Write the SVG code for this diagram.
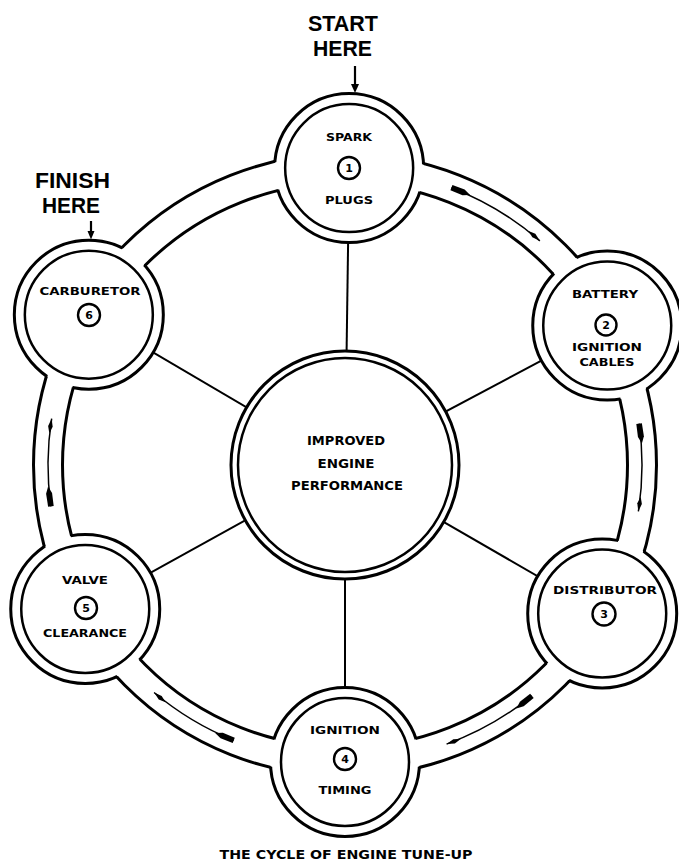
<svg xmlns="http://www.w3.org/2000/svg" width="679" height="861" viewBox="0 0 679 861">
<style>
.lbl{font-family:"DejaVu Sans","Liberation Sans",sans-serif;font-weight:bold;font-size:10.5px;text-anchor:middle;fill:#000}
.ctr{font-family:"DejaVu Sans","Liberation Sans",sans-serif;font-weight:bold;font-size:11.5px;text-anchor:middle;fill:#000}
.big{font-family:"Liberation Sans","DejaVu Sans",sans-serif;font-weight:bold;font-size:22px;text-anchor:middle;fill:#000}
.cap{font-family:"DejaVu Sans","Liberation Sans",sans-serif;font-weight:bold;font-size:13px;text-anchor:middle;fill:#000}
.dig{font-family:"DejaVu Sans","Liberation Sans",sans-serif;font-weight:bold;font-size:11px;text-anchor:middle;fill:#000}
.fill{fill:#fff;stroke:none}
.outer{fill:none;stroke:#000;stroke-width:3}
.inner{fill:none;stroke:#000;stroke-width:2.5}
.num{fill:#fff;stroke:#000;stroke-width:2.4}
.spoke{stroke:#000;stroke-width:2;fill:none}
.band{fill:none;stroke:#000;stroke-width:3}
.flow{fill:none;stroke:#000;stroke-width:1.5;marker-start:url(#mStart);marker-end:url(#mEnd)}
.ptr{stroke:#000;stroke-width:2.2;fill:none}
</style>
<defs>
<mask id="bandMask" maskUnits="userSpaceOnUse" x="0" y="0" width="679" height="861">
<rect x="0" y="0" width="679" height="861" fill="#fff"/>
<circle cx="345" cy="465" r="297" fill="none" stroke="#000" stroke-width="27"/>
</mask>
<marker id="mStart" markerUnits="userSpaceOnUse" markerWidth="24" markerHeight="12" refX="0" refY="0" orient="auto" style="overflow:visible">
<path d="M0,-2.8 L13,-3 L20,0 L13,3 L0,2.8 Z" fill="#000"/>
</marker>
<marker id="mEnd" markerUnits="userSpaceOnUse" markerWidth="16" markerHeight="8" refX="0" refY="0" orient="auto" style="overflow:visible">
<path d="M-15,0 L-8,-2.3 L0,0 L-8,2.3 Z" fill="#000"/>
</marker>
</defs>
<rect x="0" y="0" width="679" height="861" fill="#fff"/>

<g id="connectors">
<line class="spoke" x1="345" y1="465" x2="349.15" y2="168.03"/>
<line class="spoke" x1="345" y1="465" x2="607.24" y2="325.57"/>
<line class="spoke" x1="345" y1="465" x2="602.21" y2="613.5"/>
<line class="spoke" x1="345" y1="465" x2="345" y2="762"/>
<line class="spoke" x1="345" y1="465" x2="85.24" y2="608.99"/>
<line class="spoke" x1="345" y1="465" x2="88.83" y2="314.71"/>
<circle class="band" cx="345" cy="465" r="311.5"/>
<circle class="band" cx="345" cy="465" r="282.5"/>
<path class="flow" d="M451.43,187.73 A297,297 0 0 1 539.85,240.85"/>
<path class="flow" d="M639.11,423.67 A297,297 0 0 1 638.34,511.46"/>
<path class="flow" d="M531.91,695.81 A297,297 0 0 1 446.58,744.09"/>
<path class="flow" d="M233.74,740.37 A297,297 0 0 1 154.09,692.52"/>
<path class="flow" d="M50.89,506.33 A297,297 0 0 1 51.66,418.54"/>
</g>

<g id="center">
<circle cx="345" cy="465" r="114" fill="#fff" stroke="#000" stroke-width="3"/>
<circle class="inner" cx="345" cy="465" r="107"/>
<text class="ctr" x="346" y="444.5" textLength="78" lengthAdjust="spacingAndGlyphs">IMPROVED</text>
<text class="ctr" x="346" y="467.5" textLength="57" lengthAdjust="spacingAndGlyphs">ENGINE</text>
<text class="ctr" x="347" y="490" textLength="112" lengthAdjust="spacingAndGlyphs">PERFORMANCE</text>
</g>

<g id="node1">
<circle class="fill" cx="349.15" cy="168.03" r="74.5"/>
<circle class="outer" cx="349.15" cy="168.03" r="74.5" mask="url(#bandMask)"/>
<circle class="inner" cx="349.15" cy="168.03" r="64"/>
<text class="lbl" x="349" y="140.7" textLength="46" lengthAdjust="spacingAndGlyphs">SPARK</text>
<circle class="num" cx="349" cy="168" r="11"/>
<text class="dig" x="349" y="172">1</text>
<text class="lbl" x="349" y="203.7" textLength="48" lengthAdjust="spacingAndGlyphs">PLUGS</text>
</g>

<g id="node2">
<circle class="fill" cx="607.24" cy="325.57" r="74.5"/>
<circle class="outer" cx="607.24" cy="325.57" r="74.5" mask="url(#bandMask)"/>
<circle class="inner" cx="607.24" cy="325.57" r="64"/>
<text class="lbl" x="605" y="297.7" textLength="66" lengthAdjust="spacingAndGlyphs">BATTERY</text>
<circle class="num" cx="606" cy="325" r="10.5"/>
<text class="dig" x="606" y="329">2</text>
<text class="lbl" x="607" y="350.7" textLength="70" lengthAdjust="spacingAndGlyphs">IGNITION</text>
<text class="lbl" x="607" y="365.7" textLength="55" lengthAdjust="spacingAndGlyphs">CABLES</text>
</g>

<g id="node3">
<circle class="fill" cx="602.21" cy="613.5" r="74.5"/>
<circle class="outer" cx="602.21" cy="613.5" r="74.5" mask="url(#bandMask)"/>
<circle class="inner" cx="602.21" cy="613.5" r="64"/>
<text class="lbl" x="605" y="594.2" textLength="104" lengthAdjust="spacingAndGlyphs">DISTRIBUTOR</text>
<circle class="num" cx="604" cy="614" r="11.5"/>
<text class="dig" x="604" y="618">3</text>
</g>

<g id="node4">
<circle class="fill" cx="345" cy="762" r="74.5"/>
<circle class="outer" cx="345" cy="762" r="74.5" mask="url(#bandMask)"/>
<circle class="inner" cx="345" cy="762" r="64"/>
<text class="lbl" x="345" y="733.7" textLength="70" lengthAdjust="spacingAndGlyphs">IGNITION</text>
<circle class="num" cx="345" cy="759" r="11"/>
<text class="dig" x="345" y="763">4</text>
<text class="lbl" x="345" y="793.7" textLength="53" lengthAdjust="spacingAndGlyphs">TIMING</text>
</g>

<g id="node5">
<circle class="fill" cx="85.24" cy="608.99" r="74.5"/>
<circle class="outer" cx="85.24" cy="608.99" r="74.5" mask="url(#bandMask)"/>
<circle class="inner" cx="85.24" cy="608.99" r="64"/>
<text class="lbl" x="85" y="583.7" textLength="46" lengthAdjust="spacingAndGlyphs">VALVE</text>
<circle class="num" cx="86" cy="608" r="11"/>
<text class="dig" x="86" y="612">5</text>
<text class="lbl" x="85" y="637.2" textLength="84" lengthAdjust="spacingAndGlyphs">CLEARANCE</text>
</g>

<g id="node6">
<circle class="fill" cx="88.83" cy="314.71" r="74.5"/>
<circle class="outer" cx="88.83" cy="314.71" r="74.5" mask="url(#bandMask)"/>
<circle class="inner" cx="88.83" cy="314.71" r="64"/>
<text class="lbl" x="90" y="294.7" textLength="101" lengthAdjust="spacingAndGlyphs">CARBURETOR</text>
<circle class="num" cx="89" cy="315" r="11"/>
<text class="dig" x="89" y="319">6</text>
</g>

<g id="start">
<text class="big" x="343" y="31" textLength="70" lengthAdjust="spacingAndGlyphs">START</text>
<text class="big" x="342.5" y="56" textLength="59" lengthAdjust="spacingAndGlyphs">HERE</text>
<line class="ptr" x1="355" y1="66" x2="355" y2="86"/>
<polygon points="351,84 359,84 355,93" fill="#000"/>
</g>

<g id="finish">
<text class="big" x="72.5" y="188" textLength="75" lengthAdjust="spacingAndGlyphs">FINISH</text>
<text class="big" x="71" y="213" textLength="58" lengthAdjust="spacingAndGlyphs">HERE</text>
<line class="ptr" x1="91" y1="221" x2="91" y2="233"/>
<polygon points="87.5,231 94.5,231 91,239.5" fill="#000"/>
</g>

<text class="cap" x="346" y="859" textLength="253" lengthAdjust="spacingAndGlyphs">THE CYCLE OF ENGINE TUNE-UP</text>
</svg>
